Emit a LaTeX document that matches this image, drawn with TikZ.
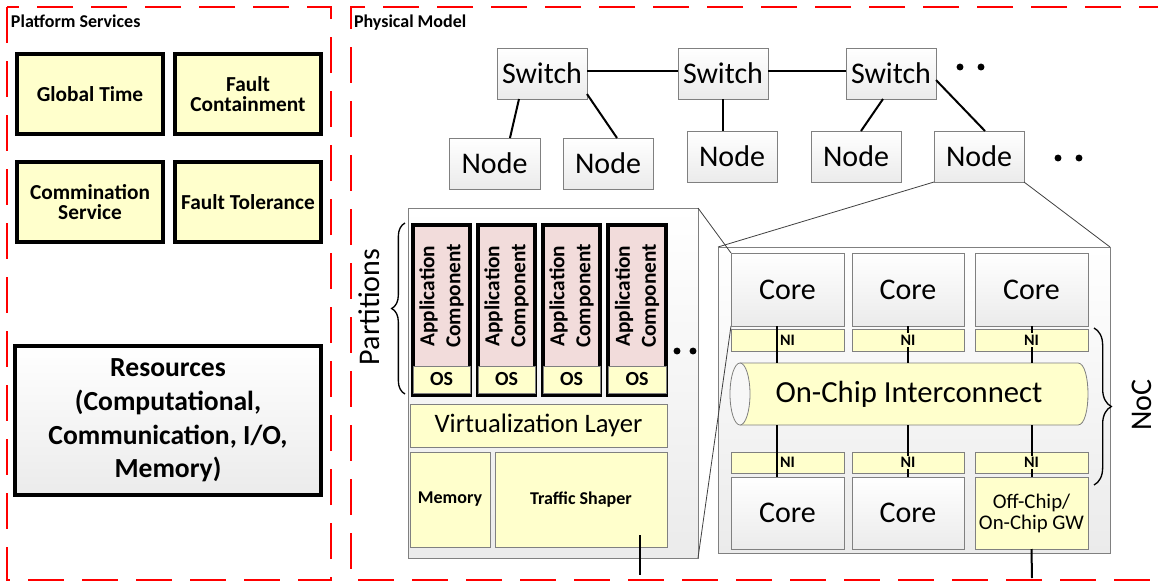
\documentclass[tikz,border=0pt]{standalone}
\usepackage{fontspec}
\setmainfont{Carlito}
\usetikzlibrary{decorations.pathreplacing,calc}
\definecolor{yel}{HTML}{FFFFCC}
\definecolor{pinkc}{HTML}{F2DCDB}
\definecolor{bord}{HTML}{808080}
\definecolor{lgray}{HTML}{EBEBEB}
\begin{document}
\begin{tikzpicture}[x=0.75pt,y=-0.75pt,
  every node/.style={inner sep=0pt,outer sep=0pt},
  bx/.style args={#1/#2/#3/#4}{at={({(#1+#3)/2},{(#2+#4)/2})},
     minimum width={(#3-#1)*0.75pt}, minimum height={(#4-#2)*0.75pt}},
  dashbox/.style={draw=red, line width=1.5pt, dash pattern=on 27pt off 13.5pt},
  graybox/.style={draw=bord, line width=0.75pt, top color=white, bottom color=lgray},
  yelbox/.style={draw=bord, line width=0.6pt, fill=yel},
  thickbox/.style={draw=black, line width=3pt},
  bigfont/.style={font=\fontsize{22.5pt}{27pt}\selectfont},
  pfont/.style={font=\bfseries\fontsize{16pt}{15.5pt}\selectfont, align=center},
  link/.style={draw=black, line width=1.5pt},
  zoomline/.style={draw=black!75, line width=0.6pt},
  dotmark/.style={fill=black}
]
\useasboundingbox (0,0) rectangle (1158,583);

% dashed frames
\draw[dashbox] (7,7) rectangle (331,580);
\draw[dashbox] (1175,7) -- (351,7) -- (351,580) -- (1175,580);

\node[anchor=base west, font=\bfseries\fontsize{13.5pt}{16pt}\selectfont] (pstitle) at (11,27) {Platform Services};
\node[anchor=base west, font=\bfseries\fontsize{13.5pt}{16pt}\selectfont] (pmtitle) at (354,27) {Physical Model};

% platform services
\node[thickbox, fill=yel, pfont, bx=17/54/163/134] (gt) {Global Time};
\node[thickbox, fill=yel, pfont, bx=175/54/321/134] (fc) {Fault\\Containment};
\node[thickbox, fill=yel, pfont, bx=17/162/163/242] (cs) {Commination\\Service};
\node[thickbox, fill=yel, pfont, bx=175/162/321/242] (ft) {Fault Tolerance};
\node[thickbox, top color=white, bottom color=lgray, bx=15/346/321/495, align=center,
      font=\bfseries\fontsize{20.7pt}{25.2pt}\selectfont] (res)
      {Resources\\(Computational,\\Communication, I/O,\\Memory)};

% switches and nodes
\node[graybox, bigfont, bx=497/48/587/99] (s1) {Switch};
\node[graybox, bigfont, bx=678/48/768/99] (s2) {Switch};
\node[graybox, bigfont, bx=846/48/936/99] (s3) {Switch};
\node[graybox, bigfont, bx=449/138/540/189] (n1) {Node};
\node[graybox, bigfont, bx=563/138/653/189] (n2) {Node};
\node[graybox, bigfont, bx=687/131/777/182] (n3) {Node};
\node[graybox, bigfont, bx=811/131/901/182] (n4) {Node};
\node[graybox, bigfont, bx=934/131/1024/182] (n5) {Node};

\draw[link] ([yshift=1.9pt]s1.east) -- ([yshift=1.9pt]s2.west);
\draw[link] ([yshift=1.9pt]s2.east) -- ([yshift=1.9pt]s3.west);
\draw[link] ([xshift=-17.25pt]s1.south) -- ([xshift=11.6pt]n1.north);
\draw[link] ([yshift=-15.4pt]s1.east) -- ([xshift=6.75pt]n2.north);
\draw[link] (s2.south) -- (s2.south |- n3.north);
\draw[link] ([xshift=-6pt]s3.south) -- ([xshift=3.75pt]n4.north);
\draw[link] ([yshift=-4.9pt]s3.east) -- ([xshift=4.5pt]n5.north);

\fill[dotmark] (960,67) circle[radius=2.6pt];
\fill[dotmark] (981,67) circle[radius=2.6pt];
\fill[dotmark] (1058,158) circle[radius=2.6pt];
\fill[dotmark] (1079,158) circle[radius=2.6pt];

% NoC box
\node[graybox, bx=718/247/1110/553] (noc) {};
\draw[zoomline] (n5.south west) -- (noc.north west);
\draw[zoomline] (n5.south east) -- (noc.north east);

% partition box
\node[graybox, bx=408/208/698/558] (part) {};
\draw[zoomline] (part.north east) -- (731,253) coordinate (c1nw);
\draw[zoomline] (part.south east) -- (731,326) coordinate (c1sw);

\foreach \i/\xa/\xb in {1/413/470, 2/478/535, 3/543/600, 4/608/666} {
  \node[thickbox, fill=pinkc, bx=\xa/225/\xb/395] (a\i) {};
  \node[yelbox, bx={\xa+2}/366/{\xb-2}/393, font=\bfseries\fontsize{15pt}{18pt}\selectfont] (os\i) {OS};
  \node[rotate=90, align=center, font=\bfseries\fontsize{16pt}{19.5pt}\selectfont] (at\i)
     at ({(\xa+\xb)/2},296) {Application\\Component};
}
\fill[dotmark] (677,351) circle[radius=2.6pt];
\fill[dotmark] (693,351) circle[radius=2.6pt];

\node[yelbox, bx=410/404/667/447, font=\fontsize{20pt}{24pt}\selectfont] (virt) {Virtualization Layer};
\node[yelbox, bx=410/452/490/547, font=\bfseries\fontsize{13.5pt}{16pt}\selectfont] (mem) {Memory};
\node[yelbox, bx=495/452/667/547, font=\bfseries\fontsize{13.5pt}{16pt}\selectfont] (ts) {Traffic Shaper};
\coordinate (tsend) at (640,575);
\draw[link] ([shift={(44.25pt,9pt)}]ts.south) -- (tsend);

\draw[decorate, decoration={brace, amplitude=10pt}, line width=1pt] (405,394) -- (405,223);
\node[rotate=90, bigfont] (partlbl) at (369,307) {Partitions};

% cores
\node[graybox, bigfont, bx=731/253/844/326] (c1) {Core};
\node[graybox, bigfont, bx=852/253/964/326] (c2) {Core};
\node[graybox, bigfont, bx=975/253/1088/326] (c3) {Core};
\node[yelbox, bx=731/329/844/351] (ni1) {};
\node[yelbox, bx=852/329/964/351] (ni2) {};
\node[yelbox, bx=975/329/1088/351] (ni3) {};
\node[yelbox, bx=731/452/844/473] (ni4) {};
\node[yelbox, bx=852/452/964/473] (ni5) {};
\node[yelbox, bx=975/452/1088/473] (ni6) {};
\node[graybox, bigfont, bx=731/477/844/549] (c4) {Core};
\node[graybox, bigfont, bx=852/477/964/549] (c5) {Core};
\node[yelbox, bx=975/477/1088/549, align=center, font=\fontsize{15.6pt}{15.8pt}\selectfont] (gw) {Off-Chip/\\On-Chip GW};

% cylinder
\fill[yel] (740,363) -- (1078,363) .. controls (1091.33,363) and (1091.33,425) .. (1078,425)
  -- (740,425) .. controls (726.67,425) and (726.67,363) .. (740,363) -- cycle;
\draw[draw=bord, line width=0.6pt] (740,363) -- (1078,363) .. controls (1091.33,363) and (1091.33,425) .. (1078,425) -- (740,425);
\filldraw[fill=gray!6, draw=bord, line width=0.6pt] (740,394) ellipse [x radius=7.5pt, y radius=23.25pt];
\node[bx=730/363/1088/425, font=\fontsize{23pt}{27pt}\selectfont] (cyl) {On-Chip Interconnect};

% vertical connections
\draw[link] ([xshift=-7.9pt]c1.south) -- ([xshift=-7.9pt]c1.south |- cyl.north);
\draw[link] (c2.south) -- (c2.south |- cyl.north);
\draw[link] (c3.south) -- (c3.south |- cyl.north);
\draw[link] ([xshift=-7.9pt]c4.north) -- ([xshift=-7.9pt]c4.north |- cyl.south);
\draw[link] (c5.north) -- (c5.north |- cyl.south);
\draw[link] (gw.north) -- (gw.north |- cyl.south);
\foreach \k in {1,...,6} {
  \node[fill=yel, inner sep=1pt, font=\bfseries\fontsize{12pt}{14pt}\selectfont] (nit\k) at ([xshift=0pt]ni\k.center) {NI};
}
\coordinate (gwend) at (1032,578);
\draw[link] (gw.south) -- (gwend);

\draw[decorate, decoration={brace, amplitude=13pt}, line width=1pt] (1094,328) -- (1094,485);
\node[rotate=90, bigfont] (noclbl) at (1142,405) {NoC};
\end{tikzpicture}
\end{document}
